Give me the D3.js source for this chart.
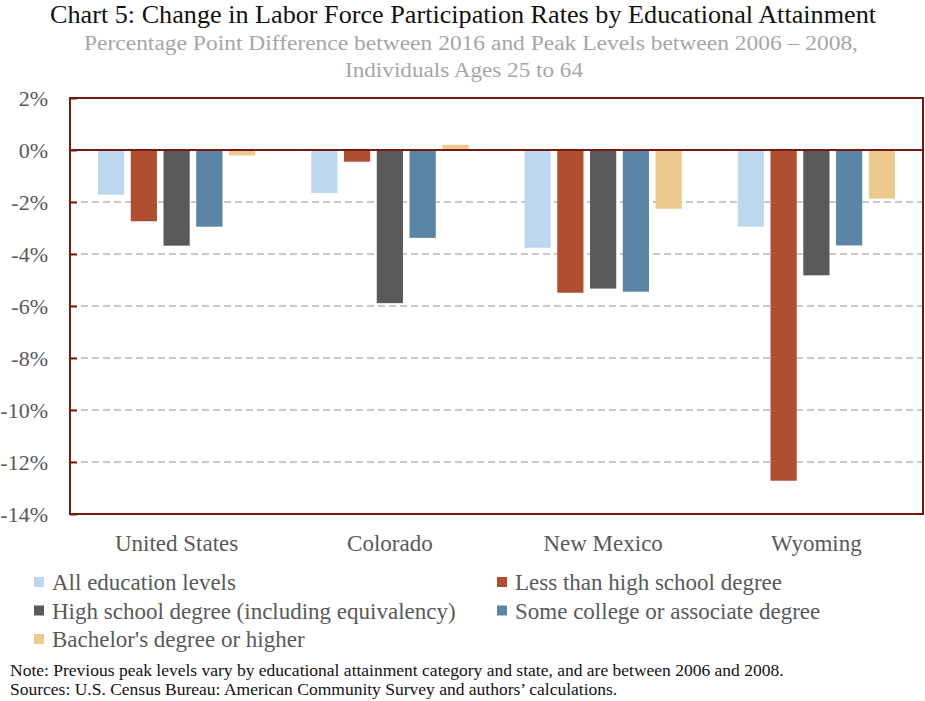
<!DOCTYPE html>
<html>
<head>
<meta charset="utf-8">
<script src="https://cdn.jsdelivr.net/npm/d3@7"></script>
<style>
  body { margin: 0; background: #fff; }
  svg text { font-family: "Liberation Serif", "DejaVu Serif", serif; }
</style>
</head>
<body>
<div id="chart"></div>
<script>
// data
const states = ["United States", "Colorado", "New Mexico", "Wyoming"];
const series = [
    "All education levels",
    "Less than high school degree",
    "High school degree (including equivalency)",
    "Some college or associate degree",
    "Bachelor's degree or higher"
];
const allLevels  = [-1.72, -1.66, -3.76, -2.95];
const lessHS     = [-2.74, -0.45, -5.49, -12.72];
const highSchool = [-3.68, -5.89, -5.33, -4.82];
const someCol    = [-2.95, -3.38, -5.45, -3.67];
const bachelor   = [-0.21, 0.20, -2.26, -1.87];
const yTicks = [2, 0, -2, -4, -6, -8, -10, -12, -14];
const colors = ["#bdd7ee", "#b04e32", "#595959", "#5b85a5", "#ecca8e"];

const values = [allLevels, lessHS, highSchool, someCol, bachelor];

const width = 925, height = 701;
const margin = {top: 98, left: 70, right: 2, bottom: 187};
const w = width - margin.left - margin.right;
const h = height - margin.top - margin.bottom;
const border = "#741a10";

const svg = d3.select("#chart").append("svg")
    .attr("width", width)
    .attr("height", height);

// titles
svg.append("text")
    .attr("x", 463).attr("y", 23)
    .attr("text-anchor", "middle")
    .style("font-size", "25px")
    .style("fill", "#111")
    .attr("textLength", 826).attr("lengthAdjust", "spacingAndGlyphs")
    .text("Chart 5: Change in Labor Force Participation Rates by Educational Attainment");

svg.append("text")
    .attr("x", 471).attr("y", 50)
    .attr("text-anchor", "middle")
    .style("font-size", "20px")
    .style("fill", "#a6a6a6")
    .attr("textLength", 774).attr("lengthAdjust", "spacingAndGlyphs")
    .text("Percentage Point Difference between 2016 and Peak Levels between 2006 \u2013 2008,");

svg.append("text")
    .attr("x", 464).attr("y", 77)
    .attr("text-anchor", "middle")
    .style("font-size", "20px")
    .style("fill", "#a6a6a6")
    .attr("textLength", 238).attr("lengthAdjust", "spacingAndGlyphs")
    .text("Individuals Ages 25 to 64");

const g = svg.append("g")
    .attr("transform", `translate(${margin.left},${margin.top})`);

const x0 = d3.scaleBand().domain(states).range([0, w]);
const x1 = d3.scaleBand().domain(series)
    .range([28, x0.bandwidth() - 28])
    .paddingInner(0.2);
const y = d3.scaleLinear().domain([-14, 2]).range([h, 0]);

// dashed grid lines
g.selectAll(".grid")
    .data(yTicks.filter(d => d < 0 && d > -14))
    .enter().append("line")
    .attr("class", "grid")
    .attr("x1", 0).attr("x2", w)
    .attr("y1", d => y(d)).attr("y2", d => y(d))
    .attr("stroke", "#c9c9c9")
    .attr("stroke-width", 2)
    .attr("stroke-dasharray", "7,4");

// bars
const groups = g.selectAll(".state")
    .data(states)
    .enter().append("g")
    .attr("class", "state")
    .attr("transform", d => `translate(${x0(d)},0)`);

groups.selectAll("rect")
    .data((d, i) => series.map((s, j) => ({s: s, v: values[j][i], c: colors[j]})))
    .enter().append("rect")
    .attr("x", d => x1(d.s))
    .attr("width", x1.bandwidth())
    .attr("y", d => y(Math.max(0, d.v)))
    .attr("height", d => Math.abs(y(d.v) - y(0)))
    .attr("fill", d => d.c);

// frame and zero line
g.append("rect")
    .attr("x", 0).attr("y", 0)
    .attr("width", w).attr("height", h)
    .attr("fill", "none")
    .attr("stroke", border)
    .attr("stroke-width", 2);

g.append("line")
    .attr("x1", 0).attr("x2", w)
    .attr("y1", y(0)).attr("y2", y(0))
    .attr("stroke", border)
    .attr("stroke-width", 2);

// y axis
const yAxis = d3.axisLeft(y)
    .tickValues(yTicks)
    .tickSize(-7)
    .tickPadding(22)
    .tickFormat(d => d + "%");

const ya = g.append("g").call(yAxis)
    .attr("font-family", null)
    .attr("font-size", null);
ya.select(".domain").remove();
ya.selectAll(".tick line")
    .attr("stroke", border)
    .attr("stroke-width", 2);
ya.selectAll(".tick text")
    .style("font-family", "'Liberation Serif', serif")
    .style("font-size", "22px")
    .style("fill", "#595959");

// x labels
g.selectAll(".xlab")
    .data(states)
    .enter().append("text")
    .attr("class", "xlab")
    .attr("x", d => x0(d) + x0.bandwidth() / 2)
    .attr("y", h + 37)
    .attr("text-anchor", "middle")
    .style("font-size", "23px")
    .style("fill", "#595959")
    .text(d => d);

// legend
const legend = svg.selectAll(".legend")
    .data(series)
    .enter().append("g")
    .attr("class", "legend")
    .attr("transform", (d, i) => `translate(${i % 2 === 0 ? 34 : 497},${582 + Math.floor(i / 2) * 28.5})`);

legend.append("rect")
    .attr("x", 0).attr("y", -5)
    .attr("width", 10).attr("height", 10)
    .attr("fill", (d, i) => colors[i]);

legend.append("text")
    .attr("x", 18).attr("y", 8)
    .style("font-size", "23px")
    .style("fill", "#595959")
    .text(d => d);

// notes
svg.append("text")
    .attr("x", 10).attr("y", 676)
    .style("font-size", "17.5px")
    .style("fill", "#111")
    .text("Note: Previous peak levels vary by educational attainment category and state, and are between 2006 and 2008.");

svg.append("text")
    .attr("x", 10).attr("y", 695)
    .style("font-size", "17.5px")
    .style("fill", "#111")
    .text("Sources: U.S. Census Bureau: American Community Survey and authors\u2019 calculations.");
</script>
</body>
</html>
